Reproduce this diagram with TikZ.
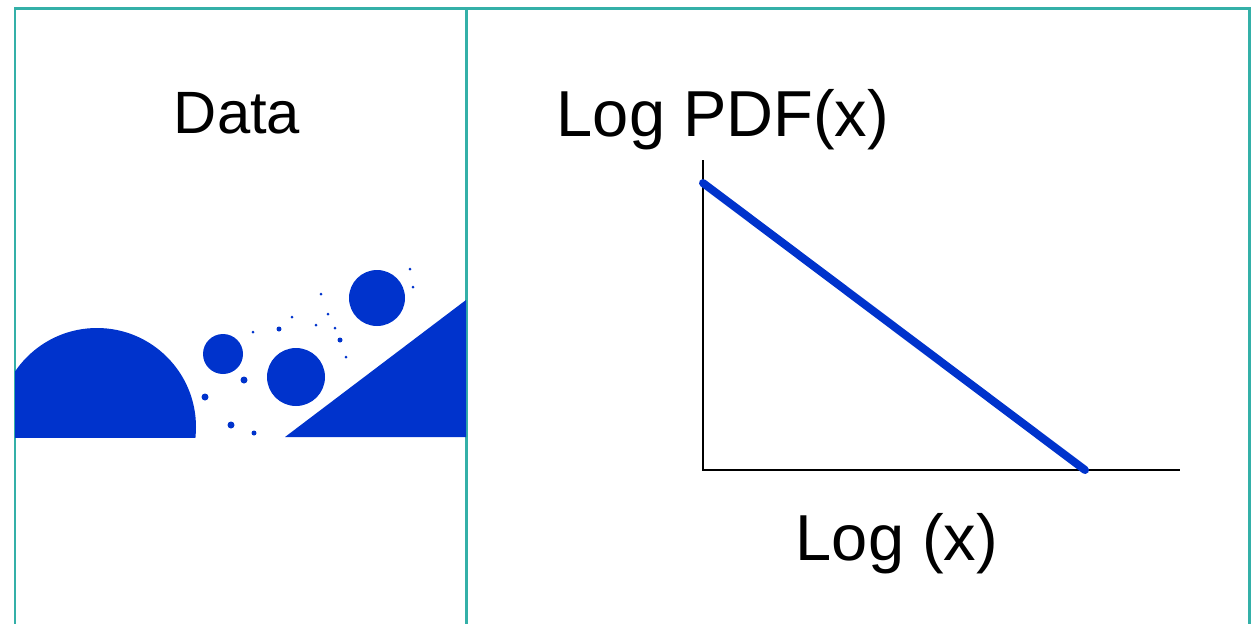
\documentclass[tikz,border=0pt]{standalone}
\usepackage{fontspec}
\setmainfont{Liberation Sans}
\usetikzlibrary{calc}

\definecolor{frameteal}{RGB}{52,176,168}
\definecolor{datablue}{RGB}{0,51,204}

\tikzset{
  panel/.style={draw=frameteal, line width=0.06cm},
  blob/.style={fill=datablue},
  axis/.style={draw=black, line width=0.035cm},
  fit line/.style={draw=datablue, line width=0.16cm, line cap=round},
  label/.style={anchor=base, font=\fontsize{37}{40}\selectfont},
}

\begin{document}
\begin{tikzpicture}[x=0.02cm, y=-0.02cm]
  \useasboundingbox (0,0) rectangle (1254,623);

  % two panels, open at the bottom
  \draw[panel] (15,660) -- (15,8) -- (1249,8) -- (1249,660);
  \draw[panel] (466,8) -- (466,660);

  \node[label, font=\fontsize{34}{38}\selectfont] (data) at (237,133) {Data};

  % sample cloud
  \begin{scope}
    \clip (15,8) rectangle (466,437);
    \fill[blob] (97,427) circle [radius=99];
    \fill[blob] (285,437) -- (466,300) -- (466,437) -- cycle;
  \end{scope}
  \fill[blob] (223,354) circle [radius=20];
  \fill[blob] (296,377) circle [radius=29];
  \fill[blob] (377,298) circle [radius=28];
  \foreach \px/\py/\pr in {205/397/3.5, 244/380/3.5, 231/425/3.5, 254/433/2.5,
      253/332/1.5, 279/329/2.5, 292/317/1.5, 321/294/1.5, 328/314/1.5,
      316/325/1.5, 335/328/1.5, 340/340/2.5, 346/357/1.5, 410/269/1.5,
      413/287/1.5}
    \fill[blob] (\px,\py) circle [radius=\pr];

  % log-log plot
  \coordinate (o) at (703,470);
  \coordinate (ytop) at ($(o) + (0,-310)$);
  \coordinate (xend) at ($(o) + (477,0)$);
  \coordinate (fit0) at ($(o) + (0,-287)$);
  \coordinate (fit1) at ($(o) + (382,0)$);
  \draw[axis] (ytop) -- (o) -- (xend);
  \draw[fit line] (fit0) -- (fit1);

  \node[label] (ylab) at (723,136) {Log PDF(x)};
  \node[label] (xlab) at (897,560) {Log (x)};
\end{tikzpicture}
\end{document}
